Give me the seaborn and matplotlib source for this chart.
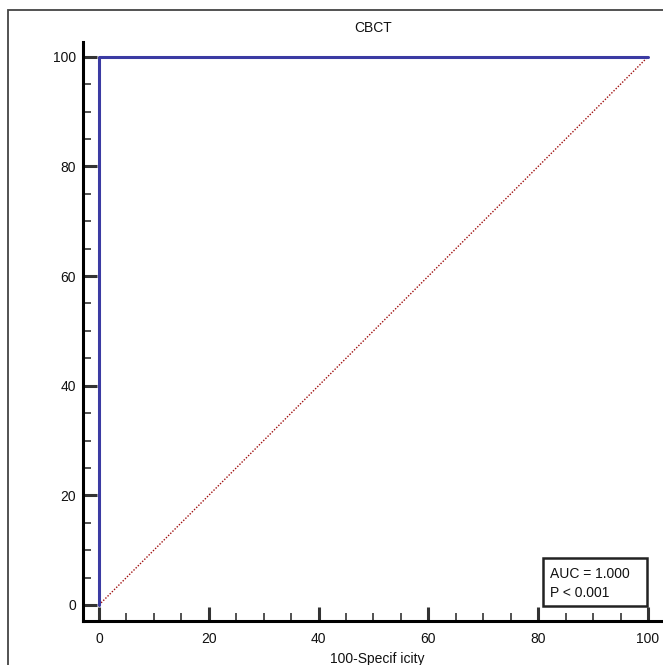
import numpy as np
import matplotlib
matplotlib.use('Agg')
import matplotlib.pyplot as plt
from matplotlib.patches import Rectangle
from matplotlib.ticker import MultipleLocator
import seaborn as sns

# ROC data (100-Specificity vs Sensitivity)
fpr = [0, 0, 100]
tpr = [0, 100, 100]
ref_x = [0, 100]
ref_y = [0, 100]
title = 'CBCT'
auc_text = 'AUC = 1.000\nP < 0.001'

sns.set_style('white')
plt.rcParams['font.family'] = ['Liberation Sans', 'DejaVu Sans']

W, H = 663, 665
fs = 10
fig = plt.figure(figsize=(W / 100, H / 100), dpi=100)
ax = fig.add_axes([83 / W, 1 - 621 / H, (665 - 83) / W, (621 - 42) / H])

sns.lineplot(x=ref_x, y=ref_y, ax=ax, color='#a01010', linestyle=(0, (1, 1.2)),
             linewidth=1.0, sort=False, estimator=None)
sns.lineplot(x=fpr, y=tpr, ax=ax, color='#3b3ba3', linewidth=2.2,
             sort=False, estimator=None)

ax.set_xlim(-2.9, 103.1)
ax.set_ylim(-2.92, 102.7)
ax.xaxis.set_major_locator(MultipleLocator(20))
ax.yaxis.set_major_locator(MultipleLocator(20))
ax.xaxis.set_minor_locator(MultipleLocator(5))
ax.yaxis.set_minor_locator(MultipleLocator(5))

for s in ['top', 'right']:
    ax.spines[s].set_visible(False)
for s in ['left', 'bottom']:
    ax.spines[s].set_linewidth(2.2)
    ax.spines[s].set_color('black')

ax.tick_params(which='major', direction='in', length=10, width=2.2, color='#333333',
               labelsize=fs, labelcolor='#111111', left=True, bottom=True)
ax.tick_params(which='minor', direction='in', length=5.5, width=1.2, color='#333333',
               left=True, bottom=True)
ax.tick_params(axis='y', which='major', pad=5)
ax.tick_params(axis='x', which='major', pad=8)

ax.set_xlabel('100-Specif icity', fontsize=fs, color='#111111')
ax.xaxis.set_label_coords((377 - 83) / 582, -0.053)
ax.set_ylabel('')
ax.patch.set_alpha(0)

fig.text(373 / W, 1 - 28 / H, title, ha='center', va='center', fontsize=fs, color='#111111')

# AUC box
ax.add_patch(Rectangle((80.9, -0.2), 18.9, 8.8, facecolor='white', edgecolor='#222222',
                       linewidth=1.8, zorder=5))
ax.text(82.1, 4.0, auc_text, fontsize=fs, ha='left', va='center', linespacing=1.45,
        color='#111111', zorder=6)

fig.patches.append(Rectangle((8 / W, -0.1), 1.2, 1.1 - 10 / H, transform=fig.transFigure,
                             fill=False, edgecolor='#444444', linewidth=1.3))

fig.savefig('out.png', dpi=100)
